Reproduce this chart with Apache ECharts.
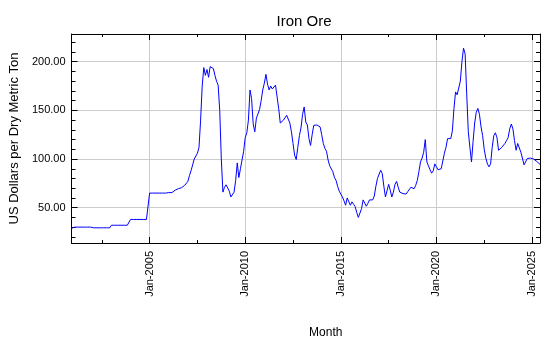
<!DOCTYPE html>
<html>
<head>
<meta charset="utf-8">
<script src="https://cdn.jsdelivr.net/npm/echarts@6/dist/echarts.min.js"></script>
<style>html,body{margin:0;padding:0;background:#fff}#c{width:550px;height:350px}</style>
</head>
<body>
<div id="c"></div>
<script>
// ---- data (US$ per dry metric ton, monthly, Dec-2000 .. Jun-2025) ----
const startLabel = 'Dec-2000';
const firstYear = 2001;
const lastYear = 2025;
const lastYearMonths = 6;
const v2000 = [28.8];
const v2001 = [30.03,30.03,30.03,30.03,30.03,30.03,30.03,30.03,30.03,30.03,30.03,30.03];
const v2002 = [29.31,29.31,29.31,29.31,29.31,29.31,29.31,29.31,29.31,29.31,29.31,29.31];
const v2003 = [31.95,31.95,31.95,31.95,31.95,31.95,31.95,31.95,31.95,31.95,31.95,31.95];
const v2004 = [37.9,37.9,37.9,37.9,37.9,37.9,37.9,37.9,37.9,37.9,37.9,37.9];
const v2005 = [65,65,65,65,65,65,65,65,65,65,65,65];
const v2006 = [65.5,67,65.5,67.5,68,68.5,69.5,69.5,70.5,71.5,73,74];
const v2007 = [77,83,88,94,100,102,106,112,140,175,194,186];
const v2008 = [192,184,195,196,193,186,180,176,150,100,66,71];
const v2009 = [73.5,75.5,67,61,60.5,66,78,96,81,90,99,108];
const v2010 = [122,127,140,171,162,136,128,142,142,151,160,171];
const v2011 = [178,187,177,171,175,172,173,176,176,152,137,137];
const v2012 = [140,141,145,146,137,128,116,104,99.5,112,124,132];
const v2013 = [146,153.5,138,135,121,114,125,134.6,133,135,135,133];
const v2014 = [125,116,111,108,99,93,92,87,81,78,72,67];
const v2015 = [66,61,57,52.5,60,59,52.5,56,53.5,51,45,40];
const v2016 = [41.5,49,58,57,51.5,54.5,58,59,58,62,72,80];
const v2017 = [82,88.5,85,72,61,60,74,68,61,66,74,77];
const v2018 = [71,66,65,64.5,63.5,64,66.5,68,71,73,69.5,73];
const v2019 = [78,87,97,101,107,120,97,93,89,85.5,88,95];
const v2020 = [92,89,87,90,98,106,112,121,121,121,129,152];
const v2021 = [169,166,173,180,200,214,208,167,128,112,97,118];
const v2022 = [137,148,152,146,133,124,110,101,95,92,95,112];
const v2023 = [124,127,122,109,110,112,111,116,119,122,131,136];
const v2024 = [131,119,109,116,114,107,105,94,92,100.5,100,101];
const v2025 = [102.5,100,99,97.5,96,94.5];

const monthNames = ['Jan','Feb','Mar','Apr','May','Jun','Jul','Aug','Sep','Oct','Nov','Dec'];
const xTickLabels = ['Jan-2005','Jan-2010','Jan-2015','Jan-2020','Jan-2025'];
const xMinorTicks = ['Jul-2002','Jul-2007','Jul-2012','Jul-2017','Jul-2022'];
const yTickValues = [50,100,150,200];
const yMinorTicks = [20,30,40,60,70,80,90,110,120,130,140,160,170,180,190,210,220];
const yMin = 13.7, yMax = 228.5;

// ---- build categories and series ----
const categories = [startLabel];
for (let y = firstYear; y <= lastYear; y++) {
  const n = (y === lastYear) ? lastYearMonths : 12;
  for (let m = 0; m < n; m++) categories.push(monthNames[m] + '-' + y);
}
const values = [].concat(v2000,v2001,v2002,v2003,v2004,v2005,v2006,v2007,v2008,v2009,v2010,
  v2011,v2012,v2013,v2014,v2015,v2016,v2017,v2018,v2019,v2020,v2021,v2022,v2023,v2024,v2025);

const FONT = 'Liberation Sans, Arial, sans-serif';
const isMajor = (i, v) => xTickLabels.indexOf(v) >= 0;
const isMinor = (i, v) => xMinorTicks.indexOf(v) >= 0;
const gridLine = { color: '#cccccc', width: 1 };

function xAx(pos, major, extra) {
  return Object.assign({
    type: 'category', data: categories, boundaryGap: false, position: pos,
    axisLine: { show: major, onZero: false, lineStyle: { color: '#000', width: 1 } },
    axisTick: { show: true, inside: true, length: major ? 6 : 3, interval: major ? isMajor : isMinor,
      lineStyle: { color: '#000' } },
    axisLabel: { show: false },
    splitLine: { show: false }
  }, extra || {});
}
function yAx(pos, major, extra) {
  return Object.assign({
    type: 'value', min: yMin, max: yMax, position: pos,
    axisLine: { show: major, onZero: false, lineStyle: { color: '#000', width: 1 } },
    axisTick: { show: true, inside: true, length: major ? 6 : 4,
      customValues: major ? yTickValues : yMinorTicks, lineStyle: { color: '#000' } },
    axisLabel: { show: false },
    splitLine: { show: false }
  }, extra || {});
}

const chart = echarts.init(document.getElementById('c'), null, { renderer: 'canvas' });
chart.setOption({
  animation: false,
  backgroundColor: '#fff',
  title: {
    text: 'Iron Ore', left: 299, top: 9, textAlign: 'center',
    textStyle: { fontFamily: FONT, fontSize: 15, fontWeight: 'normal', color: '#000' }
  },
  grid: { left: 69, right: 10, top: 34, bottom: 107, containLabel: false },
  xAxis: [
    xAx('bottom', true, {
      axisLabel: { show: true, interval: isMajor, rotate: 90, margin: 8,
        fontFamily: FONT, fontSize: 11, color: '#000' },
      splitLine: { show: true, interval: isMajor, lineStyle: gridLine },
      name: 'Month', nameLocation: 'middle', nameGap: 84,
      nameTextStyle: { fontFamily: FONT, fontSize: 12, color: '#000', padding: [0, 0, 0, 40] }
    }),
    xAx('bottom', false),
    xAx('top', true),
    xAx('top', false)
  ],
  yAxis: [
    yAx('left', true, {
      axisLabel: { show: true, customValues: yTickValues, margin: 6,
        formatter: v => v.toFixed(2), fontFamily: FONT, fontSize: 11, color: '#000' },
      splitLine: { show: true, lineStyle: gridLine },
      name: 'US Dollars per Dry Metric Ton', nameLocation: 'middle', nameGap: 44,
      nameTextStyle: { fontFamily: FONT, fontSize: 13, color: '#000' }
    }),
    yAx('left', false),
    yAx('right', true),
    yAx('right', false)
  ],
  series: [{
    type: 'line', data: values, xAxisIndex: 0, yAxisIndex: 0,
    symbol: 'none', lineStyle: { color: '#0000ff', width: 1 }, itemStyle: { color: '#0000ff' }
  }]
});
</script>
</body>
</html>
